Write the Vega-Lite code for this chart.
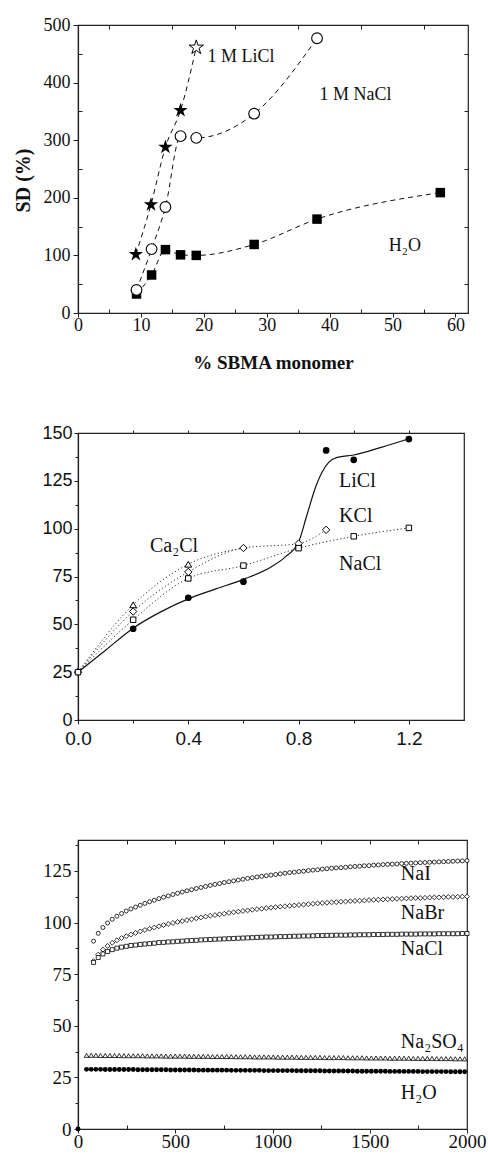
{
  "$schema": "https://vega.github.io/schema/vega-lite/v6.json",
  "background": "white",
  "padding": {"left": 12, "top": 15, "right": 0, "bottom": 0},
  "config": {
    "font": "Liberation Serif",
    "view": {"stroke": "#222", "strokeWidth": 1.2},
    "axis": {"grid": false, "domainColor": "#222", "tickColor": "#222", "labelColor": "#111", "titleColor": "#111", "domainWidth": 1.2, "tickWidth": 1, "labelFlush": false}
  },
  "spacing": 120,
  "bounds": "flush",
  "vconcat": [
    {
      "width": 390,
      "height": 288,
      "resolve": {"axis": {"x": "independent", "y": "independent"}},
      "layer": [
        {
          "encoding": {
            "x": {"field": "x", "type": "quantitative", "scale": {"domain": [0, 62], "nice": false, "zero": false},
              "axis": {"orient": "bottom", "values": [0, 10, 20, 30, 40, 50, 60], "labelFlush": false, "tickSize": 4, "labelPadding": -1, "labelFont": "Liberation Serif", "labelFontSize": 18, "title": "% SBMA monomer", "titleFont": "Liberation Serif", "titleFontSize": 19, "titleFontWeight": "bold", "titleY": 49, "titleBaseline": "middle", "titleAlign": "center"}},
            "y": {"field": "y", "type": "quantitative", "scale": {"domain": [0, 500], "nice": false},
              "axis": {"orient": "left", "values": [0, 100, 200, 300, 400, 500], "tickSize": 5, "labelPadding": 3, "labelFont": "Liberation Serif", "labelFontSize": 18, "title": "SD (%)", "titleFont": "Liberation Serif", "titleFontSize": 20, "titleFontWeight": "bold", "titleX": -55, "titleY": 155, "titleBaseline": "middle", "titleAlign": "center"}}
          },
          "layer": [
            {"data": {"name": "swelling"}, "mark": {"type": "line", "interpolate": "monotone", "color": "#111", "strokeWidth": 1, "strokeDash": [5, 4]}, "encoding": {"detail": {"field": "s"}}},
            {"data": {"name": "swelling"}, "transform": [{"filter": "datum.s === 'H2O'"}], "mark": {"type": "point", "shape": "square", "filled": true, "color": "black", "size": 90, "opacity": 1}},
            {"data": {"name": "swelling"}, "transform": [{"filter": "datum.s === '1 M NaCl'"}], "mark": {"type": "point", "shape": "circle", "filled": true, "fill": "white", "stroke": "black", "strokeWidth": 1.1, "size": 115, "opacity": 1}},
            {"data": {"name": "swelling"}, "transform": [{"filter": "datum.s === '1 M LiCl' && datum.y < 400"}], "mark": {"type": "point", "shape": "M0,-1L0.225,-0.309L0.951,-0.309L0.363,0.118L0.588,0.809L0,0.382L-0.588,0.809L-0.363,0.118L-0.951,-0.309L-0.225,-0.309Z", "filled": true, "color": "black", "size": 230, "opacity": 1}},
            {"data": {"name": "swelling"}, "transform": [{"filter": "datum.s === '1 M LiCl' && datum.y >= 400"}], "mark": {"type": "point", "shape": "M0,-1L0.225,-0.309L0.951,-0.309L0.363,0.118L0.588,0.809L0,0.382L-0.588,0.809L-0.363,0.118L-0.951,-0.309L-0.225,-0.309Z", "filled": true, "fill": "white", "stroke": "black", "strokeWidth": 1, "size": 230, "opacity": 1}},
            {"data": {"name": "swellingLabels"}, "mark": {"type": "text", "align": "left", "baseline": "middle", "font": "Liberation Serif", "fontSize": 18, "color": "#111"}, "encoding": {"text": {"field": "lab"}}}
          ]
        },
        {
          "data": {"name": "swelling"},
          "mark": {"type": "point", "opacity": 0, "size": 1},
          "encoding": {
            "x": {"field": "x", "type": "quantitative", "scale": {"domain": [0, 62], "nice": false, "zero": false}, "axis": {"orient": "bottom", "values": [5, 15, 25, 35, 45, 55], "labels": false, "domain": false, "title": null, "tickSize": 4, "offset": -4}},
            "y": {"field": "y", "type": "quantitative", "scale": {"domain": [0, 500], "nice": false}, "axis": {"orient": "left", "values": [50, 150, 250, 350, 450], "labels": false, "domain": false, "title": null, "tickSize": 4, "offset": -4}}
          }
        },
        {
          "data": {"name": "swelling"},
          "mark": {"type": "point", "opacity": 0, "size": 1},
          "encoding": {
            "x": {"field": "x", "type": "quantitative", "scale": {"domain": [0, 62], "nice": false, "zero": false}, "axis": {"orient": "top", "values": [5, 15, 25, 35, 45, 55], "labels": false, "domain": false, "title": null, "tickSize": 4, "offset": -4}},
            "y": {"field": "y", "type": "quantitative", "scale": {"domain": [0, 500], "nice": false}, "axis": {"orient": "right", "values": [50, 150, 250, 350, 450], "labels": false, "domain": false, "title": null, "tickSize": 4, "offset": -4}}
          }
        }
      ]
    },
    {
      "width": 386,
      "height": 287,
      "resolve": {"axis": {"x": "independent", "y": "independent"}},
      "layer": [
        {
          "encoding": {
            "x": {"field": "x", "type": "quantitative", "scale": {"domain": [0, 1.4], "nice": false, "zero": false},
              "axis": {"orient": "bottom", "values": [0, 0.4, 0.8, 1.2], "format": ".1f", "labelFlush": false, "tickSize": 4, "labelPadding": 5, "labelFont": "Liberation Sans", "labelFontSize": 19, "title": null}},
            "y": {"field": "y", "type": "quantitative", "scale": {"domain": [0, 150], "nice": false},
              "axis": {"orient": "left", "values": [0, 25, 50, 75, 100, 125, 150], "tickSize": 4, "labelPadding": 2, "labelFont": "Liberation Sans", "labelFontSize": 18, "title": null}}
          },
          "layer": [
            {"data": {"name": "sorptionCurves"}, "transform": [{"filter": "datum.s !== 'LiCl'"}], "mark": {"type": "line", "interpolate": "monotone", "color": "#333", "strokeWidth": 1, "strokeDash": [1.2, 2.4]}, "encoding": {"detail": {"field": "s"}}},
            {"data": {"name": "sorptionCurves"}, "transform": [{"filter": "datum.s === 'LiCl'"}], "mark": {"type": "line", "interpolate": "monotone", "color": "#111", "strokeWidth": 1.2}},
            {"data": {"name": "sorption"}, "transform": [{"filter": "datum.s === 'LiCl'"}], "mark": {"type": "point", "shape": "circle", "filled": true, "color": "black", "size": 45, "opacity": 1}},
            {"data": {"name": "sorption"}, "transform": [{"filter": "datum.s === 'KCl'"}], "mark": {"type": "point", "shape": "diamond", "filled": true, "fill": "white", "stroke": "black", "strokeWidth": 1, "size": 55, "opacity": 1}},
            {"data": {"name": "sorption"}, "transform": [{"filter": "datum.s === 'Ca2Cl'"}], "mark": {"type": "point", "shape": "triangle-up", "filled": true, "fill": "white", "stroke": "black", "strokeWidth": 1, "size": 45, "opacity": 1}},
            {"data": {"name": "sorption"}, "transform": [{"filter": "datum.s === 'NaCl'"}], "mark": {"type": "point", "shape": "square", "filled": true, "fill": "white", "stroke": "black", "strokeWidth": 1, "size": 30, "opacity": 1}},
            {"data": {"name": "sorptionLabels"}, "mark": {"type": "text", "align": "left", "baseline": "middle", "font": "Liberation Serif", "fontSize": 20, "color": "#111"}, "encoding": {"text": {"field": "lab"}}}
          ]
        },
        {
          "data": {"name": "sorption"},
          "mark": {"type": "point", "opacity": 0, "size": 1},
          "encoding": {
            "x": {"field": "x", "type": "quantitative", "scale": {"domain": [0, 1.4], "nice": false, "zero": false}, "axis": {"orient": "bottom", "values": [0.2, 0.6, 1.0], "labels": false, "domain": false, "title": null, "tickSize": 3}},
            "y": {"field": "y", "type": "quantitative", "scale": {"domain": [0, 150], "nice": false}, "axis": {"orient": "left", "values": [12.5, 37.5, 62.5, 87.5, 112.5, 137.5], "labels": false, "domain": false, "title": null, "tickSize": 3}}
          }
        },
        {
          "data": {"name": "sorption"},
          "mark": {"type": "point", "opacity": 0, "size": 1},
          "encoding": {
            "x": {"field": "x", "type": "quantitative", "scale": {"domain": [0, 1.4], "nice": false, "zero": false}, "axis": {"orient": "top", "values": [0.2, 0.4, 0.6, 0.8, 1.0, 1.2], "labels": false, "domain": false, "title": null, "tickSize": 3}},
            "y": {"field": "y", "type": "quantitative", "scale": {"domain": [0, 150], "nice": false}, "axis": null}
          }
        }
      ]
    },
    {
      "width": 389,
      "height": 289,
      "resolve": {"axis": {"x": "independent", "y": "independent"}},
      "layer": [
        {
          "encoding": {
            "x": {"field": "t", "type": "quantitative", "scale": {"domain": [0, 2000], "nice": false, "zero": false},
              "axis": {"orient": "bottom", "values": [0, 500, 1000, 1500, 2000], "format": "d", "labelFlush": false, "tickSize": 4, "labelPadding": -1, "labelFont": "Liberation Serif", "labelFontSize": 19, "title": null}},
            "y": {"field": "v", "type": "quantitative", "scale": {"domain": [0, 140], "nice": false},
              "axis": {"orient": "left", "values": [0, 25, 50, 75, 100, 125], "tickSize": 4, "labelPadding": 3, "labelFont": "Liberation Serif", "labelFontSize": 19, "title": null}}
          },
          "layer": [
            {"data": {"name": "kinetics"}, "transform": [{"filter": "datum.s === 'NaI'"}], "mark": {"type": "point", "shape": "circle", "filled": true, "fill": "white", "stroke": "black", "strokeWidth": 0.8, "size": 16, "opacity": 1}},
            {"data": {"name": "kinetics"}, "transform": [{"filter": "datum.s === 'NaBr'"}], "mark": {"type": "point", "shape": "diamond", "filled": true, "fill": "white", "stroke": "black", "strokeWidth": 0.8, "size": 24, "opacity": 1}},
            {"data": {"name": "kinetics"}, "transform": [{"filter": "datum.s === 'NaCl'"}], "mark": {"type": "point", "shape": "square", "filled": true, "fill": "white", "stroke": "black", "strokeWidth": 0.8, "size": 16, "opacity": 1}},
            {"data": {"name": "kinetics"}, "transform": [{"filter": "datum.s === 'Na2SO4'"}], "mark": {"type": "point", "shape": "triangle-up", "filled": true, "fill": "white", "stroke": "black", "strokeWidth": 0.8, "size": 22, "opacity": 1}},
            {"data": {"name": "kinetics"}, "transform": [{"filter": "datum.s === 'H2O'"}], "mark": {"type": "point", "shape": "circle", "filled": true, "color": "black", "size": 24, "opacity": 1}},
            {"data": {"name": "kineticsLabels"}, "mark": {"type": "text", "align": "left", "baseline": "middle", "font": "Liberation Serif", "fontSize": 20, "color": "#111"}, "encoding": {"text": {"field": "lab"}}}
          ]
        },
        {
          "data": {"name": "kineticsLabels"},
          "mark": {"type": "point", "opacity": 0, "size": 1},
          "encoding": {
            "x": {"field": "t", "type": "quantitative", "scale": {"domain": [0, 2000], "nice": false, "zero": false}, "axis": {"orient": "bottom", "values": [250, 750, 1250, 1750], "labels": false, "domain": false, "title": null, "tickSize": 4, "offset": -4}},
            "y": {"field": "v", "type": "quantitative", "scale": {"domain": [0, 140], "nice": false}, "axis": {"orient": "left", "values": [12.5, 37.5, 62.5, 87.5, 112.5, 137.5], "labels": false, "domain": false, "title": null, "tickSize": 3}}
          }
        },
        {
          "data": {"name": "kineticsLabels"},
          "mark": {"type": "point", "opacity": 0, "size": 1},
          "encoding": {
            "x": {"field": "t", "type": "quantitative", "scale": {"domain": [0, 2000], "nice": false, "zero": false}, "axis": {"orient": "top", "values": [250, 500, 750, 1000, 1250, 1500, 1750], "labels": false, "domain": false, "title": null, "tickSize": 4, "offset": -4}},
            "y": {"field": "v", "type": "quantitative", "scale": {"domain": [0, 140], "nice": false}, "axis": null}
          }
        }
      ]
    }
  ],
  "datasets": {
    "swelling": [
      {"s": "H2O", "x": 9.3, "y": 33}, {"s": "H2O", "x": 11.7, "y": 66}, {"s": "H2O", "x": 13.9, "y": 110}, {"s": "H2O", "x": 16.3, "y": 101},
      {"s": "H2O", "x": 18.8, "y": 100}, {"s": "H2O", "x": 28, "y": 119}, {"s": "H2O", "x": 38, "y": 163}, {"s": "H2O", "x": 57.6, "y": 209},
      {"s": "1 M NaCl", "x": 9.3, "y": 40}, {"s": "1 M NaCl", "x": 11.7, "y": 111}, {"s": "1 M NaCl", "x": 13.9, "y": 184}, {"s": "1 M NaCl", "x": 16.3, "y": 307},
      {"s": "1 M NaCl", "x": 18.8, "y": 304}, {"s": "1 M NaCl", "x": 28, "y": 346}, {"s": "1 M NaCl", "x": 38, "y": 477},
      {"s": "1 M LiCl", "x": 9.2, "y": 102}, {"s": "1 M LiCl", "x": 11.6, "y": 188}, {"s": "1 M LiCl", "x": 13.9, "y": 288}, {"s": "1 M LiCl", "x": 16.3, "y": 352},
      {"s": "1 M LiCl", "x": 18.8, "y": 461}
    ],
    "swellingLabels": [
      {"lab": "1 M LiCl", "x": 20.6, "y": 445},
      {"lab": "1 M NaCl", "x": 38.4, "y": 379},
      {"lab": "H₂O", "x": 49.4, "y": 116}
    ],
    "sorption": [
      {"s": "LiCl", "x": 0.2, "y": 47.7}, {"s": "LiCl", "x": 0.4, "y": 63.9}, {"s": "LiCl", "x": 0.6, "y": 72.3}, {"s": "LiCl", "x": 0.8, "y": 91},
      {"s": "LiCl", "x": 0.9, "y": 140.9}, {"s": "LiCl", "x": 1.0, "y": 136}, {"s": "LiCl", "x": 1.2, "y": 146.8},
      {"s": "KCl", "x": 0, "y": 25}, {"s": "KCl", "x": 0.2, "y": 56.7}, {"s": "KCl", "x": 0.4, "y": 77.4}, {"s": "KCl", "x": 0.6, "y": 89.9},
      {"s": "KCl", "x": 0.8, "y": 92.2}, {"s": "KCl", "x": 0.9, "y": 99.4},
      {"s": "Ca2Cl", "x": 0.2, "y": 60.2}, {"s": "Ca2Cl", "x": 0.4, "y": 81.4},
      {"s": "NaCl", "x": 0, "y": 25}, {"s": "NaCl", "x": 0.2, "y": 52.4}, {"s": "NaCl", "x": 0.4, "y": 74}, {"s": "NaCl", "x": 0.6, "y": 80.7},
      {"s": "NaCl", "x": 0.8, "y": 89.8}, {"s": "NaCl", "x": 1.0, "y": 96}, {"s": "NaCl", "x": 1.2, "y": 100.4}
    ],
    "sorptionCurves": [
      {"s": "Ca2Cl", "x": 0, "y": 25}, {"s": "Ca2Cl", "x": 0.2, "y": 60.2}, {"s": "Ca2Cl", "x": 0.4, "y": 81.4}, {"s": "Ca2Cl", "x": 0.6, "y": 89.9},
      {"s": "KCl", "x": 0, "y": 25}, {"s": "KCl", "x": 0.2, "y": 56.7}, {"s": "KCl", "x": 0.4, "y": 77.4}, {"s": "KCl", "x": 0.6, "y": 89.9},
      {"s": "KCl", "x": 0.8, "y": 92.2}, {"s": "KCl", "x": 0.9, "y": 99.4},
      {"s": "NaCl", "x": 0, "y": 25}, {"s": "NaCl", "x": 0.2, "y": 52.4}, {"s": "NaCl", "x": 0.4, "y": 74}, {"s": "NaCl", "x": 0.6, "y": 80.7},
      {"s": "NaCl", "x": 0.8, "y": 89.8}, {"s": "NaCl", "x": 1.0, "y": 96}, {"s": "NaCl", "x": 1.2, "y": 100.4},
      {"s": "LiCl", "x": 0, "y": 25}, {"s": "LiCl", "x": 0.1, "y": 36.5}, {"s": "LiCl", "x": 0.2, "y": 48}, {"s": "LiCl", "x": 0.3, "y": 56.5},
      {"s": "LiCl", "x": 0.4, "y": 63.3}, {"s": "LiCl", "x": 0.5, "y": 68.5}, {"s": "LiCl", "x": 0.6, "y": 73.5}, {"s": "LiCl", "x": 0.7, "y": 80},
      {"s": "LiCl", "x": 0.75, "y": 85}, {"s": "LiCl", "x": 0.8, "y": 93}, {"s": "LiCl", "x": 0.83, "y": 107}, {"s": "LiCl", "x": 0.86, "y": 121},
      {"s": "LiCl", "x": 0.885, "y": 129.5}, {"s": "LiCl", "x": 0.91, "y": 134.8}, {"s": "LiCl", "x": 0.94, "y": 137.3}, {"s": "LiCl", "x": 1.0, "y": 138.5},
      {"s": "LiCl", "x": 1.1, "y": 142.5}, {"s": "LiCl", "x": 1.2, "y": 147}
    ],
    "sorptionLabels": [
      {"lab": "LiCl", "x": 0.947, "y": 124.9},
      {"lab": "KCl", "x": 0.947, "y": 106.6},
      {"lab": "NaCl", "x": 0.947, "y": 81.5},
      {"lab": "Ca₂Cl", "x": 0.261, "y": 90.9}
    ],
    "kineticsLabels": [
      {"lab": "NaI", "t": 1660, "v": 123.6},
      {"lab": "NaBr", "t": 1660, "v": 104.8},
      {"lab": "NaCl", "t": 1660, "v": 87.4},
      {"lab": "Na₂SO₄", "t": 1660, "v": 42.1},
      {"lab": "H₂O", "t": 1660, "v": 17.5}
    ],
    "kinetics": [
      {"s":"NaI","t":80,"v":91.0},{"s":"NaI","t":104,"v":94.8},{"s":"NaI","t":128,"v":97.6},{"s":"NaI","t":152,"v":99.8},{"s":"NaI","t":176,"v":101.6},
      {"s":"NaI","t":200,"v":103.1},{"s":"NaI","t":224,"v":104.4},{"s":"NaI","t":248,"v":105.6},{"s":"NaI","t":272,"v":106.6},{"s":"NaI","t":296,"v":107.5},
      {"s":"NaI","t":320,"v":108.4},{"s":"NaI","t":344,"v":109.3},{"s":"NaI","t":368,"v":110.1},{"s":"NaI","t":392,"v":110.8},{"s":"NaI","t":416,"v":111.6},
      {"s":"NaI","t":440,"v":112.3},{"s":"NaI","t":464,"v":112.9},{"s":"NaI","t":488,"v":113.6},{"s":"NaI","t":512,"v":114.2},{"s":"NaI","t":536,"v":114.8},
      {"s":"NaI","t":560,"v":115.4},{"s":"NaI","t":584,"v":115.9},{"s":"NaI","t":608,"v":116.5},{"s":"NaI","t":632,"v":117.0},{"s":"NaI","t":656,"v":117.5},
      {"s":"NaI","t":680,"v":118.0},{"s":"NaI","t":704,"v":118.5},{"s":"NaI","t":728,"v":118.9},{"s":"NaI","t":752,"v":119.4},{"s":"NaI","t":776,"v":119.8},
      {"s":"NaI","t":800,"v":120.2},{"s":"NaI","t":824,"v":120.6},{"s":"NaI","t":848,"v":121.0},{"s":"NaI","t":872,"v":121.4},{"s":"NaI","t":896,"v":121.7},
      {"s":"NaI","t":920,"v":122.1},{"s":"NaI","t":944,"v":122.4},{"s":"NaI","t":968,"v":122.7},{"s":"NaI","t":992,"v":123.0},{"s":"NaI","t":1016,"v":123.3},
      {"s":"NaI","t":1040,"v":123.6},{"s":"NaI","t":1064,"v":123.9},{"s":"NaI","t":1088,"v":124.2},{"s":"NaI","t":1112,"v":124.4},{"s":"NaI","t":1136,"v":124.7},
      {"s":"NaI","t":1160,"v":124.9},{"s":"NaI","t":1184,"v":125.2},{"s":"NaI","t":1208,"v":125.4},{"s":"NaI","t":1232,"v":125.6},{"s":"NaI","t":1256,"v":125.9},
      {"s":"NaI","t":1280,"v":126.1},{"s":"NaI","t":1304,"v":126.3},{"s":"NaI","t":1328,"v":126.5},{"s":"NaI","t":1352,"v":126.6},{"s":"NaI","t":1376,"v":126.8},
      {"s":"NaI","t":1400,"v":127.0},{"s":"NaI","t":1424,"v":127.2},{"s":"NaI","t":1448,"v":127.3},{"s":"NaI","t":1472,"v":127.5},{"s":"NaI","t":1496,"v":127.6},
      {"s":"NaI","t":1520,"v":127.8},{"s":"NaI","t":1544,"v":127.9},{"s":"NaI","t":1568,"v":128.1},{"s":"NaI","t":1592,"v":128.2},{"s":"NaI","t":1616,"v":128.3},
      {"s":"NaI","t":1640,"v":128.4},{"s":"NaI","t":1664,"v":128.6},{"s":"NaI","t":1688,"v":128.7},{"s":"NaI","t":1712,"v":128.8},{"s":"NaI","t":1736,"v":128.9},
      {"s":"NaI","t":1760,"v":129.0},{"s":"NaI","t":1784,"v":129.1},{"s":"NaI","t":1808,"v":129.2},{"s":"NaI","t":1832,"v":129.3},{"s":"NaI","t":1856,"v":129.4},
      {"s":"NaI","t":1880,"v":129.5},{"s":"NaI","t":1904,"v":129.6},{"s":"NaI","t":1928,"v":129.7},{"s":"NaI","t":1952,"v":129.8},{"s":"NaI","t":1976,"v":129.9},
      {"s":"NaI","t":2000,"v":130.0},
      {"s":"NaBr","t":80,"v":81.3},{"s":"NaBr","t":104,"v":84.5},{"s":"NaBr","t":128,"v":86.9},{"s":"NaBr","t":152,"v":88.7},{"s":"NaBr","t":176,"v":90.2},
      {"s":"NaBr","t":200,"v":91.4},{"s":"NaBr","t":224,"v":92.5},{"s":"NaBr","t":248,"v":93.4},{"s":"NaBr","t":272,"v":94.2},{"s":"NaBr","t":296,"v":95.0},
      {"s":"NaBr","t":320,"v":95.7},{"s":"NaBr","t":344,"v":96.4},{"s":"NaBr","t":368,"v":97.0},{"s":"NaBr","t":392,"v":97.6},{"s":"NaBr","t":416,"v":98.2},
      {"s":"NaBr","t":440,"v":98.8},{"s":"NaBr","t":464,"v":99.3},{"s":"NaBr","t":488,"v":99.8},{"s":"NaBr","t":512,"v":100.3},{"s":"NaBr","t":536,"v":100.7},
      {"s":"NaBr","t":560,"v":101.2},{"s":"NaBr","t":584,"v":101.6},{"s":"NaBr","t":608,"v":102.1},{"s":"NaBr","t":632,"v":102.5},{"s":"NaBr","t":656,"v":102.9},
      {"s":"NaBr","t":680,"v":103.3},{"s":"NaBr","t":704,"v":103.6},{"s":"NaBr","t":728,"v":104.0},{"s":"NaBr","t":752,"v":104.3},{"s":"NaBr","t":776,"v":104.7},
      {"s":"NaBr","t":800,"v":105.0},{"s":"NaBr","t":824,"v":105.3},{"s":"NaBr","t":848,"v":105.6},{"s":"NaBr","t":872,"v":105.9},{"s":"NaBr","t":896,"v":106.2},
      {"s":"NaBr","t":920,"v":106.5},{"s":"NaBr","t":944,"v":106.7},{"s":"NaBr","t":968,"v":107.0},{"s":"NaBr","t":992,"v":107.2},{"s":"NaBr","t":1016,"v":107.5},
      {"s":"NaBr","t":1040,"v":107.7},{"s":"NaBr","t":1064,"v":107.9},{"s":"NaBr","t":1088,"v":108.1},{"s":"NaBr","t":1112,"v":108.3},{"s":"NaBr","t":1136,"v":108.5},
      {"s":"NaBr","t":1160,"v":108.7},{"s":"NaBr","t":1184,"v":108.9},{"s":"NaBr","t":1208,"v":109.1},{"s":"NaBr","t":1232,"v":109.3},{"s":"NaBr","t":1256,"v":109.5},
      {"s":"NaBr","t":1280,"v":109.6},{"s":"NaBr","t":1304,"v":109.8},{"s":"NaBr","t":1328,"v":109.9},{"s":"NaBr","t":1352,"v":110.1},{"s":"NaBr","t":1376,"v":110.2},
      {"s":"NaBr","t":1400,"v":110.4},{"s":"NaBr","t":1424,"v":110.5},{"s":"NaBr","t":1448,"v":110.6},{"s":"NaBr","t":1472,"v":110.7},{"s":"NaBr","t":1496,"v":110.9},
      {"s":"NaBr","t":1520,"v":111.0},{"s":"NaBr","t":1544,"v":111.1},{"s":"NaBr","t":1568,"v":111.2},{"s":"NaBr","t":1592,"v":111.3},{"s":"NaBr","t":1616,"v":111.4},
      {"s":"NaBr","t":1640,"v":111.5},{"s":"NaBr","t":1664,"v":111.6},{"s":"NaBr","t":1688,"v":111.7},{"s":"NaBr","t":1712,"v":111.8},{"s":"NaBr","t":1736,"v":111.9},
      {"s":"NaBr","t":1760,"v":111.9},{"s":"NaBr","t":1784,"v":112.0},{"s":"NaBr","t":1808,"v":112.1},{"s":"NaBr","t":1832,"v":112.2},{"s":"NaBr","t":1856,"v":112.2},
      {"s":"NaBr","t":1880,"v":112.3},{"s":"NaBr","t":1904,"v":112.4},{"s":"NaBr","t":1928,"v":112.4},{"s":"NaBr","t":1952,"v":112.5},{"s":"NaBr","t":1976,"v":112.6},
      {"s":"NaBr","t":2000,"v":112.6},
      {"s":"NaCl","t":80,"v":80.7},{"s":"NaCl","t":104,"v":83.1},{"s":"NaCl","t":128,"v":84.8},{"s":"NaCl","t":152,"v":86.0},{"s":"NaCl","t":176,"v":86.9},
      {"s":"NaCl","t":200,"v":87.6},{"s":"NaCl","t":224,"v":88.1},{"s":"NaCl","t":248,"v":88.5},{"s":"NaCl","t":272,"v":88.9},{"s":"NaCl","t":296,"v":89.1},
      {"s":"NaCl","t":320,"v":89.4},{"s":"NaCl","t":344,"v":89.6},{"s":"NaCl","t":368,"v":89.8},{"s":"NaCl","t":392,"v":90.0},{"s":"NaCl","t":416,"v":90.3},
      {"s":"NaCl","t":440,"v":90.4},{"s":"NaCl","t":464,"v":90.6},{"s":"NaCl","t":488,"v":90.7},{"s":"NaCl","t":512,"v":90.9},{"s":"NaCl","t":536,"v":91.0},
      {"s":"NaCl","t":560,"v":91.2},{"s":"NaCl","t":584,"v":91.3},{"s":"NaCl","t":608,"v":91.4},{"s":"NaCl","t":632,"v":91.6},{"s":"NaCl","t":656,"v":91.7},
      {"s":"NaCl","t":680,"v":91.8},{"s":"NaCl","t":704,"v":91.9},{"s":"NaCl","t":728,"v":92.0},{"s":"NaCl","t":752,"v":92.1},{"s":"NaCl","t":776,"v":92.2},
      {"s":"NaCl","t":800,"v":92.3},{"s":"NaCl","t":824,"v":92.4},{"s":"NaCl","t":848,"v":92.5},{"s":"NaCl","t":872,"v":92.6},{"s":"NaCl","t":896,"v":92.7},
      {"s":"NaCl","t":920,"v":92.8},{"s":"NaCl","t":944,"v":92.9},{"s":"NaCl","t":968,"v":93.0},{"s":"NaCl","t":992,"v":93.0},{"s":"NaCl","t":1016,"v":93.1},
      {"s":"NaCl","t":1040,"v":93.2},{"s":"NaCl","t":1064,"v":93.2},{"s":"NaCl","t":1088,"v":93.3},{"s":"NaCl","t":1112,"v":93.4},{"s":"NaCl","t":1136,"v":93.4},
      {"s":"NaCl","t":1160,"v":93.5},{"s":"NaCl","t":1184,"v":93.5},{"s":"NaCl","t":1208,"v":93.6},{"s":"NaCl","t":1232,"v":93.7},{"s":"NaCl","t":1256,"v":93.7},
      {"s":"NaCl","t":1280,"v":93.8},{"s":"NaCl","t":1304,"v":93.8},{"s":"NaCl","t":1328,"v":93.9},{"s":"NaCl","t":1352,"v":93.9},{"s":"NaCl","t":1376,"v":93.9},
      {"s":"NaCl","t":1400,"v":94.0},{"s":"NaCl","t":1424,"v":94.0},{"s":"NaCl","t":1448,"v":94.1},{"s":"NaCl","t":1472,"v":94.1},{"s":"NaCl","t":1496,"v":94.1},
      {"s":"NaCl","t":1520,"v":94.2},{"s":"NaCl","t":1544,"v":94.2},{"s":"NaCl","t":1568,"v":94.2},{"s":"NaCl","t":1592,"v":94.3},{"s":"NaCl","t":1616,"v":94.3},
      {"s":"NaCl","t":1640,"v":94.3},{"s":"NaCl","t":1664,"v":94.4},{"s":"NaCl","t":1688,"v":94.4},{"s":"NaCl","t":1712,"v":94.4},{"s":"NaCl","t":1736,"v":94.4},
      {"s":"NaCl","t":1760,"v":94.5},{"s":"NaCl","t":1784,"v":94.5},{"s":"NaCl","t":1808,"v":94.5},{"s":"NaCl","t":1832,"v":94.5},{"s":"NaCl","t":1856,"v":94.6},
      {"s":"NaCl","t":1880,"v":94.6},{"s":"NaCl","t":1904,"v":94.6},{"s":"NaCl","t":1928,"v":94.6},{"s":"NaCl","t":1952,"v":94.6},{"s":"NaCl","t":1976,"v":94.7},
      {"s":"NaCl","t":2000,"v":94.7},
      {"s":"Na2SO4","t":44,"v":35.7},{"s":"Na2SO4","t":68,"v":35.7},{"s":"Na2SO4","t":92,"v":35.7},{"s":"Na2SO4","t":116,"v":35.6},{"s":"Na2SO4","t":140,"v":35.6},
      {"s":"Na2SO4","t":164,"v":35.6},{"s":"Na2SO4","t":188,"v":35.6},{"s":"Na2SO4","t":212,"v":35.6},{"s":"Na2SO4","t":236,"v":35.5},{"s":"Na2SO4","t":260,"v":35.5},
      {"s":"Na2SO4","t":284,"v":35.5},{"s":"Na2SO4","t":308,"v":35.5},{"s":"Na2SO4","t":332,"v":35.5},{"s":"Na2SO4","t":356,"v":35.4},{"s":"Na2SO4","t":380,"v":35.4},
      {"s":"Na2SO4","t":404,"v":35.4},{"s":"Na2SO4","t":428,"v":35.4},{"s":"Na2SO4","t":452,"v":35.3},{"s":"Na2SO4","t":476,"v":35.3},{"s":"Na2SO4","t":500,"v":35.3},
      {"s":"Na2SO4","t":524,"v":35.3},{"s":"Na2SO4","t":548,"v":35.3},{"s":"Na2SO4","t":572,"v":35.2},{"s":"Na2SO4","t":596,"v":35.2},{"s":"Na2SO4","t":620,"v":35.2},
      {"s":"Na2SO4","t":644,"v":35.2},{"s":"Na2SO4","t":668,"v":35.2},{"s":"Na2SO4","t":692,"v":35.1},{"s":"Na2SO4","t":716,"v":35.1},{"s":"Na2SO4","t":740,"v":35.1},
      {"s":"Na2SO4","t":764,"v":35.1},{"s":"Na2SO4","t":788,"v":35.1},{"s":"Na2SO4","t":812,"v":35.0},{"s":"Na2SO4","t":836,"v":35.0},{"s":"Na2SO4","t":860,"v":35.0},
      {"s":"Na2SO4","t":884,"v":35.0},{"s":"Na2SO4","t":908,"v":34.9},{"s":"Na2SO4","t":932,"v":34.9},{"s":"Na2SO4","t":956,"v":34.9},{"s":"Na2SO4","t":980,"v":34.9},
      {"s":"Na2SO4","t":1004,"v":34.9},{"s":"Na2SO4","t":1028,"v":34.8},{"s":"Na2SO4","t":1052,"v":34.8},{"s":"Na2SO4","t":1076,"v":34.8},{"s":"Na2SO4","t":1100,"v":34.8},
      {"s":"Na2SO4","t":1124,"v":34.8},{"s":"Na2SO4","t":1148,"v":34.7},{"s":"Na2SO4","t":1172,"v":34.7},{"s":"Na2SO4","t":1196,"v":34.7},{"s":"Na2SO4","t":1220,"v":34.7},
      {"s":"Na2SO4","t":1244,"v":34.7},{"s":"Na2SO4","t":1268,"v":34.6},{"s":"Na2SO4","t":1292,"v":34.6},{"s":"Na2SO4","t":1316,"v":34.6},{"s":"Na2SO4","t":1340,"v":34.6},
      {"s":"Na2SO4","t":1364,"v":34.6},{"s":"Na2SO4","t":1388,"v":34.5},{"s":"Na2SO4","t":1412,"v":34.5},{"s":"Na2SO4","t":1436,"v":34.5},{"s":"Na2SO4","t":1460,"v":34.5},
      {"s":"Na2SO4","t":1484,"v":34.4},{"s":"Na2SO4","t":1508,"v":34.4},{"s":"Na2SO4","t":1532,"v":34.4},{"s":"Na2SO4","t":1556,"v":34.4},{"s":"Na2SO4","t":1580,"v":34.4},
      {"s":"Na2SO4","t":1604,"v":34.3},{"s":"Na2SO4","t":1628,"v":34.3},{"s":"Na2SO4","t":1652,"v":34.3},{"s":"Na2SO4","t":1676,"v":34.3},{"s":"Na2SO4","t":1700,"v":34.3},
      {"s":"Na2SO4","t":1724,"v":34.2},{"s":"Na2SO4","t":1748,"v":34.2},{"s":"Na2SO4","t":1772,"v":34.2},{"s":"Na2SO4","t":1796,"v":34.2},{"s":"Na2SO4","t":1820,"v":34.2},
      {"s":"Na2SO4","t":1844,"v":34.1},{"s":"Na2SO4","t":1868,"v":34.1},{"s":"Na2SO4","t":1892,"v":34.1},{"s":"Na2SO4","t":1916,"v":34.1},{"s":"Na2SO4","t":1940,"v":34.0},
      {"s":"Na2SO4","t":1964,"v":34.0},{"s":"Na2SO4","t":1988,"v":34.0},
      {"s":"H2O","t":0,"v":0},
      {"s":"H2O","t":44,"v":28.9},{"s":"H2O","t":68,"v":28.9},{"s":"H2O","t":92,"v":28.9},{"s":"H2O","t":116,"v":28.9},{"s":"H2O","t":140,"v":28.8},
      {"s":"H2O","t":164,"v":28.8},{"s":"H2O","t":188,"v":28.8},{"s":"H2O","t":212,"v":28.8},{"s":"H2O","t":236,"v":28.8},{"s":"H2O","t":260,"v":28.8},
      {"s":"H2O","t":284,"v":28.8},{"s":"H2O","t":308,"v":28.7},{"s":"H2O","t":332,"v":28.7},{"s":"H2O","t":356,"v":28.7},{"s":"H2O","t":380,"v":28.7},
      {"s":"H2O","t":404,"v":28.7},{"s":"H2O","t":428,"v":28.7},{"s":"H2O","t":452,"v":28.7},{"s":"H2O","t":476,"v":28.6},{"s":"H2O","t":500,"v":28.6},
      {"s":"H2O","t":524,"v":28.6},{"s":"H2O","t":548,"v":28.6},{"s":"H2O","t":572,"v":28.6},{"s":"H2O","t":596,"v":28.6},{"s":"H2O","t":620,"v":28.5},
      {"s":"H2O","t":644,"v":28.5},{"s":"H2O","t":668,"v":28.5},{"s":"H2O","t":692,"v":28.5},{"s":"H2O","t":716,"v":28.5},{"s":"H2O","t":740,"v":28.5},
      {"s":"H2O","t":764,"v":28.5},{"s":"H2O","t":788,"v":28.4},{"s":"H2O","t":812,"v":28.4},{"s":"H2O","t":836,"v":28.4},{"s":"H2O","t":860,"v":28.4},
      {"s":"H2O","t":884,"v":28.4},{"s":"H2O","t":908,"v":28.4},{"s":"H2O","t":932,"v":28.4},{"s":"H2O","t":956,"v":28.3},{"s":"H2O","t":980,"v":28.3},
      {"s":"H2O","t":1004,"v":28.3},{"s":"H2O","t":1028,"v":28.3},{"s":"H2O","t":1052,"v":28.3},{"s":"H2O","t":1076,"v":28.3},{"s":"H2O","t":1100,"v":28.3},
      {"s":"H2O","t":1124,"v":28.2},{"s":"H2O","t":1148,"v":28.2},{"s":"H2O","t":1172,"v":28.2},{"s":"H2O","t":1196,"v":28.2},{"s":"H2O","t":1220,"v":28.2},
      {"s":"H2O","t":1244,"v":28.2},{"s":"H2O","t":1268,"v":28.1},{"s":"H2O","t":1292,"v":28.1},{"s":"H2O","t":1316,"v":28.1},{"s":"H2O","t":1340,"v":28.1},
      {"s":"H2O","t":1364,"v":28.1},{"s":"H2O","t":1388,"v":28.1},{"s":"H2O","t":1412,"v":28.1},{"s":"H2O","t":1436,"v":28.0},{"s":"H2O","t":1460,"v":28.0},
      {"s":"H2O","t":1484,"v":28.0},{"s":"H2O","t":1508,"v":28.0},{"s":"H2O","t":1532,"v":28.0},{"s":"H2O","t":1556,"v":28.0},{"s":"H2O","t":1580,"v":28.0},
      {"s":"H2O","t":1604,"v":27.9},{"s":"H2O","t":1628,"v":27.9},{"s":"H2O","t":1652,"v":27.9},{"s":"H2O","t":1676,"v":27.9},{"s":"H2O","t":1700,"v":27.9},
      {"s":"H2O","t":1724,"v":27.9},{"s":"H2O","t":1748,"v":27.9},{"s":"H2O","t":1772,"v":27.8},{"s":"H2O","t":1796,"v":27.8},{"s":"H2O","t":1820,"v":27.8},
      {"s":"H2O","t":1844,"v":27.8},{"s":"H2O","t":1868,"v":27.8},{"s":"H2O","t":1892,"v":27.8},{"s":"H2O","t":1916,"v":27.7},{"s":"H2O","t":1940,"v":27.7},
      {"s":"H2O","t":1964,"v":27.7},{"s":"H2O","t":1988,"v":27.7}
    ]
  }
}
